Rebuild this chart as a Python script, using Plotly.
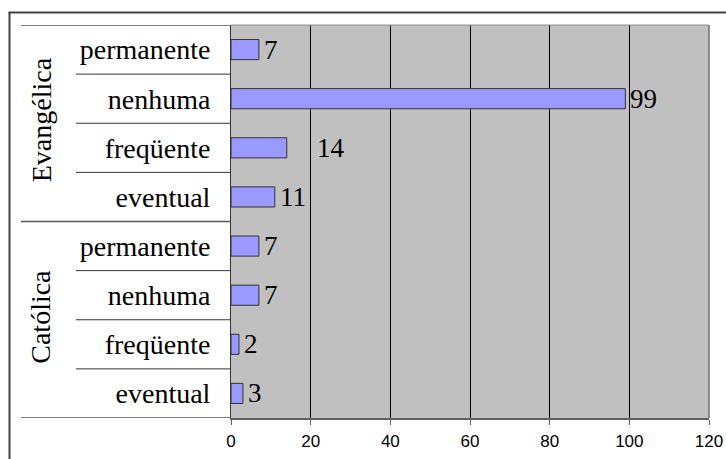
import plotly.graph_objects as go

# Data (bottom to top)
groups = ["Católica", "Evangélica"]
categories = ["eventual", "freqüente", "nenhuma", "permanente",
              "eventual", "freqüente", "nenhuma", "permanente"]
values = [3, 2, 7, 7, 11, 14, 99, 7]
label_shift = [5, 5, 5, 5, 5, 30, 5, 5]
x_ticks = [0, 20, 40, 60, 80, 100, 120]

W, H = 726, 459
L, R, T, B = 231, 17, 25, 41
pw, ph = W - L - R, H - T - B

def px_x(p):  # p in screenshot pixels
    return (p - L) / pw

def px_y(p):
    return 1 - (p - T) / ph

ypos = list(range(len(values)))

fig = go.Figure()
fig.add_trace(go.Bar(
    x=values, y=ypos, orientation="h", width=0.41,
    marker=dict(color="#9999FF", line=dict(color="#333333", width=1)),
    hoverinfo="skip",
))

serif = "Liberation Serif"

for v, yy, s in zip(values, ypos, label_shift):
    fig.add_annotation(x=v, y=yy, text=str(v), showarrow=False,
                       xanchor="left", yanchor="middle", xshift=s - 2,
                       font=dict(family=serif, size=27, color="black"))

# group labels
for gi, g in enumerate(groups):
    fig.add_annotation(xref="paper", x=px_x(41), y=gi * 4 + 1.5, text=g,
                       textangle=-90, showarrow=False, yshift=3,
                       xanchor="center", yanchor="middle",
                       font=dict(family=serif, size=28, color="black"))

shapes = []
# divider lines in label area
for b in [0.5, 1.5, 2.5, 4.5, 5.5, 6.5]:
    shapes.append(dict(type="line", xref="paper", yref="y",
                       x0=px_x(76), x1=0, y0=b, y1=b,
                       line=dict(color="#333333", width=1)))
for b in [-0.5, 3.5, 7.5]:
    shapes.append(dict(type="line", xref="paper", yref="y",
                       x0=px_x(21), x1=0, y0=b, y1=b,
                       line=dict(color="#555555", width=1.5)))
# plot area top / right border
shapes.append(dict(type="line", xref="paper", yref="paper", x0=0, x1=1, y0=1, y1=1,
                   line=dict(color="#909090", width=1)))
shapes.append(dict(type="line", xref="paper", yref="paper", x0=1, x1=1, y0=0, y1=1,
                   line=dict(color="#707070", width=1.5)))
# outer border (left and top edges; the rest lies outside the picture)
shapes.append(dict(type="line", xref="paper", yref="paper",
                   x0=px_x(9.5), x1=px_x(9.5), y0=px_y(470), y1=px_y(12.5),
                   line=dict(color="#404040", width=2)))
shapes.append(dict(type="line", xref="paper", yref="paper",
                   x0=px_x(8.5), x1=px_x(740), y0=px_y(12.5), y1=px_y(12.5),
                   line=dict(color="#404040", width=2)))

fig.update_layout(
    width=W, height=H, autosize=False,
    margin=dict(l=L, r=R, t=T, b=B, autoexpand=False),
    paper_bgcolor="white", plot_bgcolor="#C0C0C0",
    showlegend=False, shapes=shapes,
    xaxis=dict(range=[0, 120], tickvals=x_ticks, ticktext=[str(t) for t in x_ticks],
               showgrid=True, gridcolor="black", gridwidth=1,
               showline=True, linecolor="#606060", linewidth=2,
               ticks="outside", ticklen=5, tickcolor="#606060",
               ticklabelstandoff=2, automargin=False,
               tickfont=dict(family="Liberation Sans", size=17, color="black"),
               zeroline=False, fixedrange=True),
    yaxis=dict(range=[-0.5, 7.5], tickvals=ypos, ticktext=categories,
               showgrid=False, zeroline=False, automargin=False,
               showline=True, linecolor="#333333", linewidth=1,
               ticks="", ticklabelstandoff=14,
               tickfont=dict(family=serif, size=28, color="black"),
               fixedrange=True),
)

fig.write_html(
    "out.html",
    config={"displayModeBar": False, "staticPlot": True},
    post_script="document.documentElement.style.overflow='hidden';"
                "document.body.style.margin='0';document.body.style.overflow='hidden';",
)
